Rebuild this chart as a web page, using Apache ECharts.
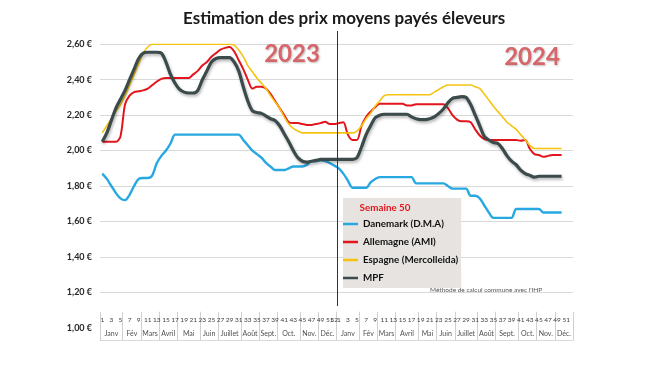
<!DOCTYPE html>
<html><head><meta charset="utf-8">
<script src="https://cdn.jsdelivr.net/npm/echarts@6/dist/echarts.min.js"></script>
<style>html,body{margin:0;padding:0;background:#fff}#c{width:650px;height:366px}</style>
</head><body><div id="c"></div>
<script>
// ---- tick labels ----
const weeksOfYear = [1,2,3,4,5,6,7,8,9,10,11,12,13,14,15,16,17,18,19,20,21,22,23,24,25,26,
  27,28,29,30,31,32,33,34,35,36,37,38,39,40,41,42,43,44,45,46,47,48,49,50,51,52];
const years = [2023, 2024];
const monthNames = ['Janv','Fév','Mars','Avril','Mai','Juin','Juillet','Août','Sept.','Oct.','Nov.','Déc.'];
const monthWeeks2023 = [5,4,4,4,5,4,5,4,4,5,4,4];
const monthWeeks2024 = [5,4,4,5,4,4,5,4,5,4,4,4];
const yMin = 1.0, yMax = 2.6, yStep = 0.2;

// ---- series values (weekly, 2023 w1..w52 then 2024 w1..w50) ----
const danemark2023 = [1.87,1.84,1.80,1.76,1.73,1.72,1.75,1.80,1.84,1.845,1.845,1.86,1.93,1.97,2.00,2.04,2.09,
  2.09,2.09,2.09,2.09,2.09,2.09,2.09,2.09,2.09,2.09,2.09,2.09,2.09,2.09,
  2.06,2.03,2.00,1.98,1.96,1.93,1.91,1.89,1.89,1.89,1.90,1.91,1.91,1.91,1.92,1.94,1.94,1.945,1.94,1.93,1.915];
const danemark2024 = [1.90,1.87,1.83,1.79,1.79,1.79,1.79,1.82,1.84,1.85,
  1.85,1.85,1.85,1.85,1.85,1.85,1.85,
  1.815,1.815,1.815,1.815,1.815,1.815,1.815,1.80,1.785,1.785,1.785,1.785,
  1.745,1.745,1.73,1.69,1.65,1.62,1.62,1.62,1.62,1.62,
  1.67,1.67,1.67,1.67,1.67,1.67,1.65,1.65,1.65,1.65,1.65];
const allemagne2023 = [2.05,2.05,2.05,2.05,2.08,2.26,2.31,2.33,2.335,2.34,2.35,2.37,2.39,2.405,
  2.41,2.41,2.41,2.41,2.41,2.41,
  2.43,2.45,2.48,2.50,2.53,2.55,2.57,2.58,2.585,2.56,
  2.51,2.46,2.40,2.35,2.36,2.36,2.35,2.32,2.28,2.24,
  2.20,2.16,2.155,2.155,2.15,2.145,2.145,2.15,2.155,2.163,2.15,2.15];
const allemagne2024 = [2.155,2.16,2.09,2.06,2.06,2.14,2.19,2.22,2.245,2.265,
  2.265,2.265,2.265,2.265,2.265,2.255,2.255,
  2.262,2.262,2.262,2.262,2.262,2.262,2.262,
  2.24,2.20,2.175,2.165,2.165,2.16,2.12,2.085,2.065,
  2.06,2.06,2.06,2.06,2.06,2.06,2.06,
  2.055,2.06,2.01,1.98,1.975,1.965,1.97,1.975,1.975,1.975];
const espagne2023 = [2.10,2.14,2.18,2.22,2.26,2.31,2.37,2.43,2.49,2.55,2.585,
  2.60,2.60,2.60,2.60,2.60,2.60,2.60,2.60,2.60,2.60,2.60,2.60,2.60,2.60,2.60,2.60,2.60,2.60,
  2.595,2.568,2.53,2.48,2.445,2.41,2.38,2.35,2.31,2.275,2.24,2.19,2.15,2.125,2.11,
  2.10,2.10,2.10,2.10,2.10,2.10,2.10,2.10];
const espagne2024 = [2.10,2.10,2.10,2.10,2.11,2.14,2.18,2.21,2.25,2.28,2.31,
  2.315,2.315,2.315,2.315,2.315,2.315,2.315,2.315,2.315,2.315,
  2.33,2.345,2.36,2.37,2.37,2.37,2.37,2.37,2.37,
  2.36,2.35,2.32,2.285,2.25,2.22,2.19,2.16,2.14,2.12,2.09,2.06,2.03,
  2.012,2.012,2.012,2.012,2.012,2.012,2.012];
const mpf2023 = [2.05,2.10,2.17,2.24,2.29,2.34,2.40,2.46,2.52,2.55,2.555,2.555,2.555,2.55,2.50,2.43,
  2.38,2.345,2.33,2.325,2.325,2.34,2.40,2.45,2.50,2.52,2.525,2.525,2.525,2.50,2.45,2.36,
  2.28,2.225,2.215,2.21,2.195,2.18,2.17,2.14,2.095,2.05,2.00,1.96,1.94,1.935,1.94,1.945,
  1.95,1.95,1.95,1.95];
const mpf2024 = [1.95,1.95,1.95,1.95,1.96,2.02,2.09,2.14,2.185,2.20,
  2.205,2.205,2.205,2.205,2.205,2.205,
  2.19,2.18,2.175,2.175,2.18,2.19,2.21,2.235,2.27,2.295,2.30,2.305,2.30,2.26,2.20,2.14,
  2.08,2.06,2.045,2.04,2.01,1.97,1.94,1.92,1.89,1.87,1.86,1.85,
  1.855,1.855,1.855,1.855,1.855,1.855];

const seriesNames = ['Danemark (D.M.A)','Allemagne (AMI)','Espagne (Mercolleida)','MPF'];
const seriesColors = ['#27a8e0','#e3151c','#f5c30f','#3b4a4a'];

// ---- build axis helpers ----
const categories = [];
years.forEach(y => weeksOfYear.forEach(w => categories.push(y + '-' + w)));
const monthWeeks = monthWeeks2023.concat(monthWeeks2024);
const monthBounds = [0], monthCenters = [], monthCenterName = {};
let acc = 0;
monthWeeks.forEach((n, k) => {
  const c = acc + n / 2;
  monthCenters.push(c);
  monthCenterName[c.toFixed(2)] = monthNames[k % 12];
  acc += n; monthBounds.push(acc);
});

const chart = echarts.init(document.getElementById('c'), null, {renderer: 'canvas'});
const FONT = 'Lato';
const lineW = [2.4, 2, 1.6, 3.2];
const data = [danemark2023.concat(danemark2024), allemagne2023.concat(allemagne2024),
  espagne2023.concat(espagne2024), mpf2023.concat(mpf2024)];

chart.setOption({
  animation: false,
  backgroundColor: '#ffffff',
  title: {
    text: 'Estimation des prix moyens payés éleveurs',
    left: 178, top: 5,
    textStyle: {fontFamily: FONT, fontWeight: 'bold', fontSize: 17, color: '#1a1a1a'}
  },
  grid: {left: 100, right: 77, top: 44.3, bottom: 38.3, containLabel: false},
  legend: {
    orient: 'vertical', left: 343, top: 198,
    backgroundColor: '#e6e3e0', padding: [20, 3, 4, 0],
    itemGap: 6, itemWidth: 15, itemHeight: 2.5, icon: 'rect',
    data: seriesNames,
    textStyle: {fontFamily: FONT, fontWeight: 'bold', fontSize: 9.8, color: '#111', lineHeight: 12}
  },
  xAxis: [{
    type: 'category', data: categories, boundaryGap: true, position: 'bottom', offset: -14,
    axisLine: {show: false}, axisTick: {show: false}, splitLine: {show: false},
    axisLabel: {
      interval: (idx, val) => { const w = +val.split('-')[1]; return w % 2 === 1 || w === 52; },
      formatter: v => v.split('-')[1],
      margin: 3, fontFamily: FONT, fontSize: 6.5, color: '#404040'
    }
  }, {
    type: 'value', min: 0, max: 104, position: 'bottom', offset: 13,
    axisLine: {show: true, lineStyle: {color: '#d9d9d9', width: 1}},
    axisTick: {show: true, inside: true, length: 29, customValues: monthBounds, lineStyle: {color: '#d0d0d0'}},
    splitLine: {show: false},
    axisLabel: {
      show: true, inside: true, margin: 3, customValues: monthCenters,
      formatter: v => monthCenterName[(+v).toFixed(2)] || '',
      fontFamily: FONT, fontSize: 7, color: '#505050'
    }
  }],
  yAxis: {
    type: 'value', min: yMin, max: yMax, interval: yStep,
    axisLine: {show: false}, axisTick: {show: false},
    splitLine: {show: true, lineStyle: {color: ['transparent','#d9d9d9','#d9d9d9','#d9d9d9','#d9d9d9','#d9d9d9','#d9d9d9','#d9d9d9','#d9d9d9'], width: 1}},
    axisLabel: {
      margin: 8, formatter: v => v.toFixed(2).replace('.', ',') + ' €',
      fontFamily: FONT, fontWeight: 'bold', fontSize: 9, color: '#262626'
    }
  },
  series: seriesNames.map((n, k) => ({
    name: n, type: 'line', xAxisIndex: 0, data: data[k],
    showSymbol: false, symbol: 'none', smooth: 0.3,
    color: seriesColors[k],
    lineStyle: Object.assign({width: lineW[k], color: seriesColors[k]},
      k === 3 ? {shadowColor: 'rgba(0,0,0,0.3)', shadowBlur: 3, shadowOffsetY: 2, shadowOffsetX: 1} : {}),
    z: 2 + k
  }))
});

// divider between 2023 and 2024 located via the axis scale
const xa = chart.convertToPixel({xAxisIndex: 0}, categories[51]);
const xb = chart.convertToPixel({xAxisIndex: 0}, categories[52]);
const xDiv = Math.round((xa + xb) / 2) + 0.5;
const yearStyle = {fontFamily: FONT, fontWeight: 'bold', fontSize: 24, fill: '#d7666a',
  textShadowColor: 'rgba(0,0,0,0.25)', textShadowBlur: 2, textShadowOffsetX: 1, textShadowOffsetY: 1};
chart.setOption({
  graphic: [
    {type: 'line', shape: {x1: xDiv, y1: 31, x2: xDiv, y2: 306}, style: {stroke: '#333', lineWidth: 1}, z: 10},
    {type: 'text', x: 292, y: 54, style: Object.assign({text: String(years[0]), align: 'center', verticalAlign: 'middle'}, yearStyle), z: 10},
    {type: 'text', x: 532, y: 57, style: Object.assign({text: String(years[1]), align: 'center', verticalAlign: 'middle'}, yearStyle), z: 10},
    {type: 'text', x: 385, y: 208, style: {text: 'Semaine 50', align: 'center', verticalAlign: 'middle',
      fontFamily: FONT, fontWeight: 'bold', fontSize: 9.8, fill: '#e3151c'}, z: 20},
    {type: 'text', x: 430, y: 290, style: {text: "Méthode de calcul commune avec l'IHP", align: 'left', verticalAlign: 'middle',
      fontFamily: FONT, fontSize: 6.5, fill: '#555'}, z: 10}
  ]
});
</script></body></html>
